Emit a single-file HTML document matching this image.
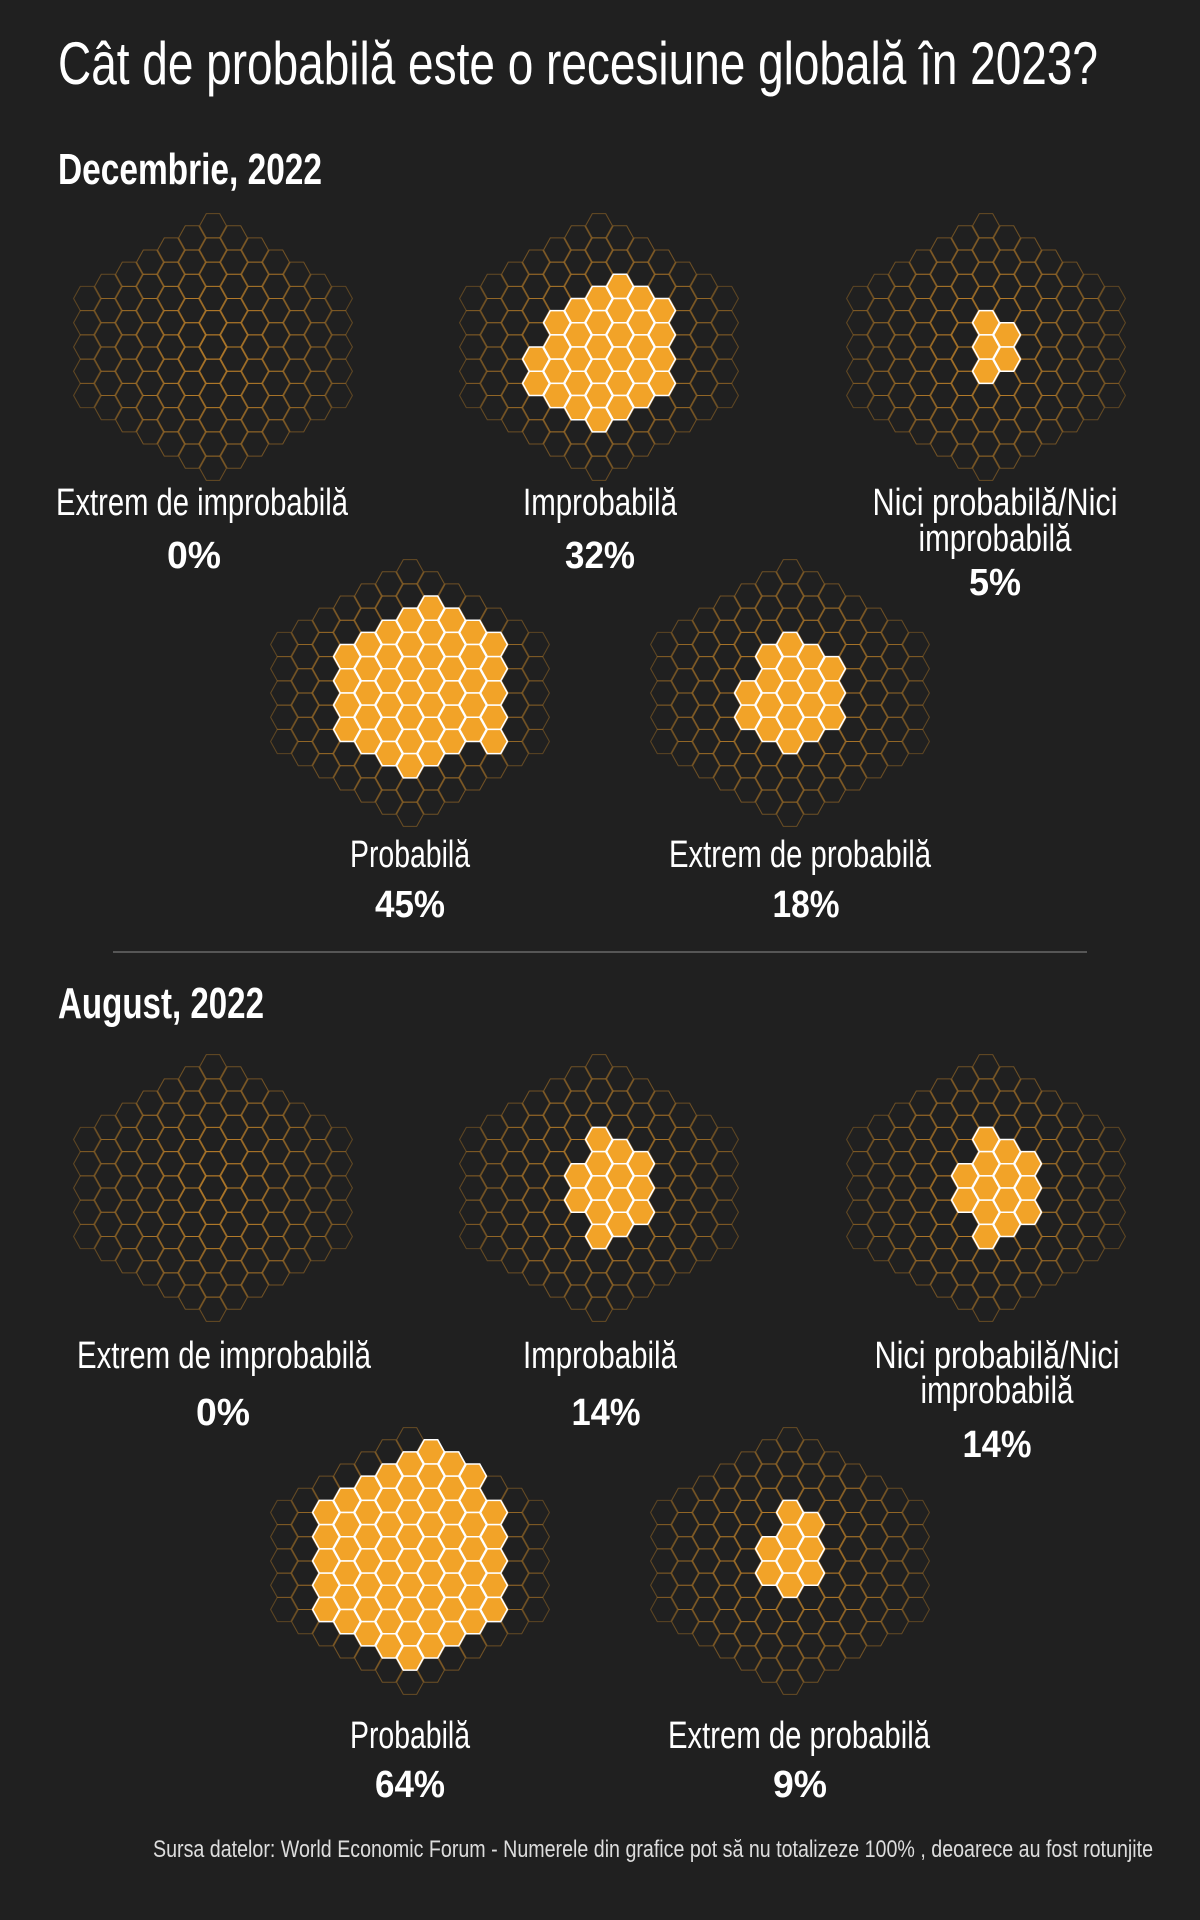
<!DOCTYPE html>
<html><head><meta charset="utf-8"><style>
html,body{margin:0;padding:0;background:#202020;}
svg{display:block;}
text{fill:#fff;font-family:"Liberation Sans Narrow","Liberation Sans",sans-serif;}
.t{font-size:60px;}
.h{font-size:44px;font-weight:bold;}
.l{font-size:38px;}
.p{font-size:38px;font-weight:bold;}
.f{font-size:24px;fill:#ddd;}
</style></head><body>
<svg id="s" width="1200" height="1920" viewBox="0 0 1200 1920" xmlns="http://www.w3.org/2000/svg">
<rect width="1200" height="1920" fill="#202020"/>
<text class="t" x="58" y="84" textLength="1040" lengthAdjust="spacingAndGlyphs">Cât de probabilă este o recesiune globală în 2023?</text>
<text class="h" x="58" y="184" textLength="264" lengthAdjust="spacingAndGlyphs">Decembrie, 2022</text>
<g id="hex"></g>
<g text-anchor="middle">
<text class="l" x="202" y="515" textLength="292" lengthAdjust="spacingAndGlyphs">Extrem de improbabilă</text>
<text class="p" x="194" y="568" textLength="54" lengthAdjust="spacingAndGlyphs">0%</text>
<text class="l" x="600" y="515" textLength="154" lengthAdjust="spacingAndGlyphs">Improbabilă</text>
<text class="p" x="600" y="568" textLength="70" lengthAdjust="spacingAndGlyphs">32%</text>
<text class="l" x="995" y="515" textLength="245" lengthAdjust="spacingAndGlyphs">Nici probabilă/Nici</text>
<text class="l" x="995" y="551" textLength="153" lengthAdjust="spacingAndGlyphs">improbabilă</text>
<text class="p" x="995" y="595" textLength="52" lengthAdjust="spacingAndGlyphs">5%</text>
<text class="l" x="410" y="867" textLength="120" lengthAdjust="spacingAndGlyphs">Probabilă</text>
<text class="p" x="410" y="917" textLength="70" lengthAdjust="spacingAndGlyphs">45%</text>
<text class="l" x="800" y="867" textLength="262" lengthAdjust="spacingAndGlyphs">Extrem de probabilă</text>
<text class="p" x="806" y="917" textLength="67" lengthAdjust="spacingAndGlyphs">18%</text>

<text class="l" x="224" y="1368" textLength="294" lengthAdjust="spacingAndGlyphs">Extrem de improbabilă</text>
<text class="p" x="223" y="1425" textLength="54" lengthAdjust="spacingAndGlyphs">0%</text>
<text class="l" x="600" y="1368" textLength="154" lengthAdjust="spacingAndGlyphs">Improbabilă</text>
<text class="p" x="606" y="1425" textLength="69" lengthAdjust="spacingAndGlyphs">14%</text>
<text class="l" x="997" y="1368" textLength="245" lengthAdjust="spacingAndGlyphs">Nici probabilă/Nici</text>
<text class="l" x="997" y="1403" textLength="153" lengthAdjust="spacingAndGlyphs">improbabilă</text>
<text class="p" x="997" y="1457" textLength="69" lengthAdjust="spacingAndGlyphs">14%</text>
<text class="l" x="410" y="1748" textLength="120" lengthAdjust="spacingAndGlyphs">Probabilă</text>
<text class="p" x="410" y="1797" textLength="70" lengthAdjust="spacingAndGlyphs">64%</text>
<text class="l" x="799" y="1748" textLength="262" lengthAdjust="spacingAndGlyphs">Extrem de probabilă</text>
<text class="p" x="800" y="1797" textLength="54" lengthAdjust="spacingAndGlyphs">9%</text>
</g>
<line x1="113" y1="952" x2="1087" y2="952" stroke="#777" stroke-width="1.2"/>
<text class="h" x="58" y="1018" textLength="206" lengthAdjust="spacingAndGlyphs">August, 2022</text>
<text class="f" x="153" y="1857" textLength="1000" lengthAdjust="spacingAndGlyphs">Sursa datelor: World Economic Forum - Numerele din grafice pot să nu totalizeze 100% , deoarece au fost rotunjite</text>
</svg>
<script>
(function(){
var R=14,RX=13.4,H=R*Math.sqrt(3),NS="http://www.w3.org/2000/svg",g=document.getElementById("hex");
function pts(x,y){var a=[];for(var i=0;i<6;i++){var t=Math.PI/3*i;a.push((x+RX*Math.cos(t)).toFixed(2)+","+(y+R*Math.sin(t)).toFixed(2));}return a.join(" ");}
function rng(a,b){var r=[];for(var k=a;k<=b+1e-6;k+=1)r.push(k);return r;}
function grid(cx,cy,fill){
  var filled=[];
  for(var d=-6;d<=6;d++){
    var n=11-Math.abs(d);
    for(var r=0;r<n;r++){
      var k=r-(n-1)/2,x=cx+d*1.5*R,y=cy+k*H;
      var f=fill[d]&&fill[d].some(function(v){return Math.abs(v-k)<0.01;});
      if(f){filled.push([x,y]);continue;}
      var dist=Math.sqrt(Math.pow(d/6,2)+Math.pow(k/5.5,2));
      var p=document.createElementNS(NS,"polygon");
      p.setAttribute("points",pts(x,y));p.setAttribute("fill","none");
      p.setAttribute("stroke","#c4852a");p.setAttribute("stroke-width","1.1");
      p.setAttribute("stroke-opacity",Math.max(0.3,0.85-0.45*dist).toFixed(2));
      g.appendChild(p);
    }
  }
  filled.forEach(function(c){
    var p=document.createElementNS(NS,"polygon");
    p.setAttribute("points",pts(c[0],c[1]));p.setAttribute("fill","#f2a328");
    p.setAttribute("stroke","#fff");p.setAttribute("stroke-width","1.6");
    g.appendChild(p);
  });
}
grid(213,347,{});
grid(599,347,{"-3":[.5,1.5],"-2":rng(-1,2),"-1":rng(-1.5,2.5),"0":rng(-2,3),"1":rng(-2.5,2.5),"2":rng(-2,2),"3":rng(-1.5,1.5)});
grid(986,347,{"0":[-1,0,1],"1":[-.5,.5]});
grid(410,693,{"-3":rng(-1.5,1.5),"-2":rng(-2,2),"-1":rng(-2.5,2.5),"0":rng(-3,3),"1":rng(-3.5,2.5),"2":rng(-3,2),"3":rng(-2.5,1.5),"4":rng(-2,2)});
grid(790,693,{"-2":[0,1],"-1":rng(-1.5,1.5),"0":rng(-2,2),"1":rng(-1.5,1.5),"2":[-1,0,1]});
var a14={"-1":[-.5,.5],"0":rng(-2,2),"1":rng(-1.5,1.5),"2":[-1,0,1]};
grid(213,1188,{});
grid(599,1188,a14);
grid(986,1188,a14);
grid(410,1561,{"-4":rng(-2,2),"-3":rng(-2.5,2.5),"-2":rng(-3,3),"-1":rng(-3.5,3.5),"0":rng(-4,4),"1":rng(-4.5,3.5),"2":rng(-4,3),"3":rng(-3.5,2.5),"4":rng(-2,2)});
grid(790,1561,{"-1":[-.5,.5],"0":rng(-2,1),"1":rng(-1.5,.5)});
})();
</script>
</body></html>
